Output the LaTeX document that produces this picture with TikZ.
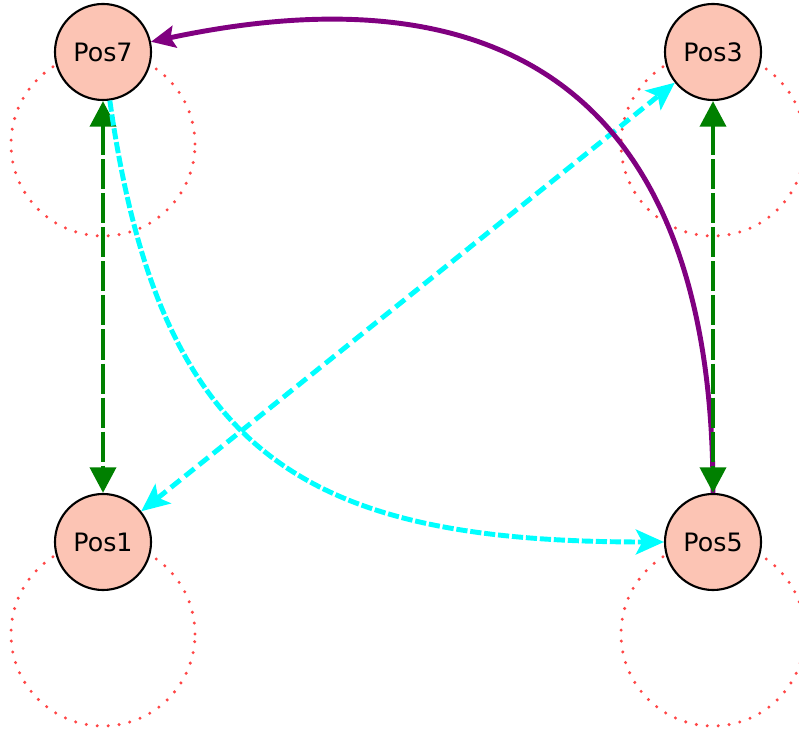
\documentclass[tikz,border=0pt]{standalone}
\usepackage{fontspec}
\setmainfont{DejaVu Sans}
\usetikzlibrary{arrows.meta,backgrounds}

\definecolor{nodefill}{RGB}{252,196,180}
\definecolor{loopred}{RGB}{255,70,70}
\definecolor{edgegreen}{RGB}{0,128,0}
\definecolor{edgecyan}{RGB}{0,255,255}
\definecolor{edgepurple}{RGB}{128,0,128}

\begin{document}
\begin{tikzpicture}[
    x=0.025cm, y=0.025cm,
    state/.style={circle, draw, line width=1.5pt, fill=nodefill, minimum size=2.4cm, inner sep=0pt,
      font=\fontsize{18}{21}\selectfont},
    selfloop/.style={draw=loopred, line width=2.4pt, line cap=round, dash pattern=on 0pt off 7.8pt},
    tipgreen/.style={{Triangle[length=0.64cm, width=0.64cm]}-{Triangle[length=0.64cm, width=0.64cm]}},
    tipcyan/.tip={Stealth[length=0.7cm, width=0.62cm, inset=0.16cm]},
    greenarr/.style={draw=edgegreen, line width=3.5pt, dash pattern=on 0.75cm off 0.1cm, tipgreen},
    cyanarr/.style={draw=edgecyan, line width=3.5pt, dash pattern=on 0.3cm off 0.15cm, tipcyan-tipcyan},
    cyanbend/.style={draw=edgecyan, line width=3.5pt, dash pattern=on 0.28cm off 0.07cm, -tipcyan},
    purplearr/.style={draw=edgepurple, line width=3.5pt, -{Stealth[length=0.6cm, width=0.55cm, inset=0.1cm]}}
  ]
    \useasboundingbox (0,0) rectangle (799,729);

    \node[state] (pos7) at (103,677) {Pos7};
    \node[state] (pos3) at (713,677) {Pos3};
    \node[state] (pos1) at (103,187) {Pos1};
    \node[state] (pos5) at (713,187) {Pos5};

    % self loops sit under the nodes
    \begin{scope}[on background layer]
      \foreach \n in {pos7,pos3,pos1,pos5}
        \draw[selfloop] (\n.center) ++(0,-92) circle (92);
    \end{scope}

    \draw[cyanarr] (pos1) -- (pos3);
    \draw[purplearr] (pos5) to[out=90, in=12, looseness=1.35] (pos7);
    \draw[greenarr] (pos7) -- (pos1);
    \draw[greenarr] (pos3) -- (pos5);
    \draw[cyanbend] (pos7) to[out=-82, in=180, looseness=1.3] (pos5);
  \end{tikzpicture}
\end{document}
